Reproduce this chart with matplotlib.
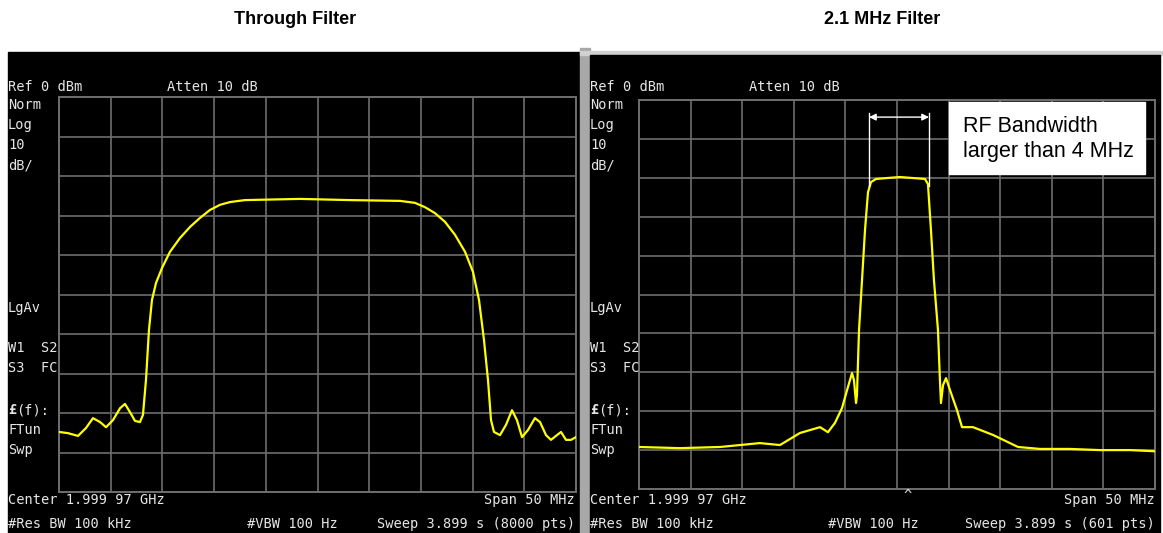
import numpy as np
import matplotlib
matplotlib.use('Agg')
import matplotlib.pyplot as plt
from matplotlib.patches import Rectangle

W, H = 1163, 533

# ---- traces (offset from center in MHz, level in dBm)
thru_freq = [-25.0, -24.13, -23.16, -22.39, -21.71, -21.03, -20.45, -19.78, -19.10, -18.62,
             -18.13, -17.65, -17.17, -16.88, -16.59, -16.30, -16.01, -15.62, -15.04, -14.27,
             -13.30, -12.33, -11.36, -10.40, -9.43, -8.46, -7.01, -1.69, 3.14, 7.98,
             9.43, 10.40, 11.36, 12.33, 13.30, 14.27, 15.04, 15.62, 16.10, 16.49,
             16.78, 17.07, 17.65, 18.23, 18.81, 19.29, 19.78, 20.36, 21.03, 21.52,
             22.10, 22.58, 23.06, 23.55, 24.03, 24.52, 25.0]
thru_level = [-84.8, -85.1, -85.8, -83.8, -81.3, -82.3, -83.6, -81.8, -78.8, -77.7,
              -79.8, -82.0, -82.3, -80.5, -71.7, -59.0, -51.4, -47.1, -43.3, -39.2,
              -35.7, -32.9, -30.6, -28.6, -27.3, -26.6, -26.1, -25.8, -26.1, -26.3,
              -26.8, -27.9, -29.4, -31.6, -34.9, -39.2, -44.3, -51.4, -61.5, -71.7,
              -81.8, -84.8, -85.6, -83.0, -79.3, -81.8, -86.1, -84.3, -81.3, -82.3,
              -85.6, -86.8, -85.8, -84.8, -86.8, -86.8, -86.1]

filt_freq = [-25.0, -21.03, -17.15, -13.28, -11.34, -9.40, -7.46, -6.69, -6.01, -5.33,
             -4.84, -4.36, -4.17, -3.97, -3.88, -3.68, -3.39, -3.10, -2.81, -2.52,
             -2.03, -1.16, 0.29, 1.75, 2.71, 3.00, 3.29, 3.58, 3.97, 4.16,
             4.26, 4.46, 4.75, 5.14, 5.81, 6.30, 7.36, 9.30, 11.73, 13.86,
             16.76, 19.67, 22.58, 25.0]
filt_level = [-89.2, -89.5, -89.2, -88.2, -88.7, -85.6, -84.1, -85.4, -83.0, -79.2,
              -74.6, -70.2, -72.0, -77.9, -75.9, -59.1, -46.3, -33.4, -23.7, -21.1,
              -20.3, -20.1, -19.8, -20.1, -20.3, -21.6, -33.4, -46.3, -59.1, -72.0,
              -77.9, -73.3, -71.5, -74.6, -79.7, -84.1, -84.1, -86.1, -89.2, -89.7,
              -89.7, -90.0, -90.0, -90.3]

titles = ['Through Filter', '2.1 MHz Filter']
sweep_pts = ['Sweep 3.899 s (8000 pts)', 'Sweep 3.899 s (601 pts)']
bw_marks = [-2.71, 3.10]   # white marker lines on the filtered trace, MHz

MONO = 'DejaVu Sans Mono'
TXT = '#e6e6e6'
GRID = '#6e6e6e'
fs = 9.8


def fx(x):
    return x / W


def fy(y):
    return 1 - y / H


def prect(x0, y0, x1, y1):
    return [fx(x0), fy(y1), (x1 - x0) / W, (y1 - y0) / H]


fig = plt.figure(figsize=(W / 100, H / 100), dpi=100)
fig.patch.set_facecolor('white')

# screen backgrounds
fig.patches.append(Rectangle((fx(8), 0), (580 - 8) / W, fy(52), transform=fig.transFigure,
                             color='black', zorder=-2))
fig.patches.append(Rectangle((fx(580), 0), 10 / W, fy(48), transform=fig.transFigure,
                             color='#a8a8a8', zorder=-2))
fig.patches.append(Rectangle((fx(580), fy(55)), (1163 - 580) / W, 4 / H, transform=fig.transFigure,
                             color='#d0d0d0', zorder=-2))
fig.patches.append(Rectangle((fx(590), 0), (1160 - 590) / W, fy(55), transform=fig.transFigure,
                             color='black', zorder=-2))

grids = [(59, 97, 576, 492), (639, 100, 1155, 489)]
offsets = [0, 582]
traces = [(thru_freq, thru_level), (filt_freq, filt_level)]
right_edge = [575, 1155]
vbw_x = [247, 828]
title_x = [295, 882]

for i in range(2):
    x0, y0, x1, y1 = grids[i]
    ax = fig.add_axes(prect(x0, y0, x1, y1))
    ax.set_zorder(1)
    ax.set_facecolor('black')
    ax.set_xlim(-25, 25)
    ax.set_ylim(-100, 0)
    ax.set_xticks(np.arange(-25, 26, 5))
    ax.set_yticks(np.arange(-100, 1, 10))
    ax.grid(True, color=GRID, lw=1.2)
    ax.tick_params(length=0, labelbottom=False, labelleft=False)
    for s in ax.spines.values():
        s.set_color(GRID)
        s.set_linewidth(1.4)
    f, l = traces[i]
    ax.plot(f, l, color='#ffff00', lw=1.6, zorder=3)

    o = offsets[i]
    fig.text(fx(title_x[i]), fy(20), titles[i], ha='center', va='center',
             fontsize=13, fontweight='bold', family='Liberation Sans')

    left = [('Ref 0 dBm', 87), ('Norm', 105), ('Log', 125), ('10', 145), ('dB/', 165),
            ('LgAv', 308), ('W1  S2', 348), ('S3  FC', 368), ('FTun', 430), ('Swp', 450),
            ('Center 1.999 97 GHz', 500), ('#Res BW 100 kHz', 524)]
    for t, y in left:
        fig.text(fx(8 + o), fy(y), t, ha='left', va='center', fontsize=fs, family=MONO, color=TXT)
    fig.text(fx(8 + o), fy(410), '£', ha='left', va='center', fontsize=fs, family=MONO,
             color=TXT, fontweight='bold')
    fig.text(fx(16.2 + o), fy(410), '(f):', ha='left', va='center', fontsize=fs, family=MONO, color=TXT)
    fig.text(fx(167 + o), fy(87), 'Atten 10 dB', ha='left', va='center', fontsize=fs, family=MONO, color=TXT)
    fig.text(fx(right_edge[i]), fy(500), 'Span 50 MHz', ha='right', va='center', fontsize=fs,
             family=MONO, color=TXT)
    fig.text(fx(vbw_x[i]), fy(524), '#VBW 100 Hz', ha='left', va='center', fontsize=fs,
             family=MONO, color=TXT)
    fig.text(fx(right_edge[i]), fy(524), sweep_pts[i], ha='right', va='center', fontsize=fs,
             family=MONO, color=TXT)

    if i == 1:
        fig.text(fx(908), fy(496), '^', ha='center', va='center', fontsize=fs, family=MONO, color=TXT)
        for m in bw_marks:
            ax.plot([m, m], [-3.3, -22], color='white', lw=1.0, zorder=4)
        ax.annotate('', xy=(bw_marks[0], -4.4), xytext=(bw_marks[1], -4.4),
                    arrowprops=dict(arrowstyle='<|-|>', color='white', lw=1.0,
                                    shrinkA=0, shrinkB=0, mutation_scale=10), zorder=4)

# annotation box on the filtered screen
fig.patches.append(Rectangle((fx(949), fy(174)), (1145 - 949) / W, (174 - 102) / H,
                             transform=fig.transFigure, color='white', zorder=5))
fig.text(fx(963), fy(139), 'RF Bandwidth\nlarger than 4 MHz', ha='left', va='center',
         fontsize=15.5, family='Liberation Sans', color='black', linespacing=1.25, zorder=6)

fig.savefig('out.png', dpi=100)
